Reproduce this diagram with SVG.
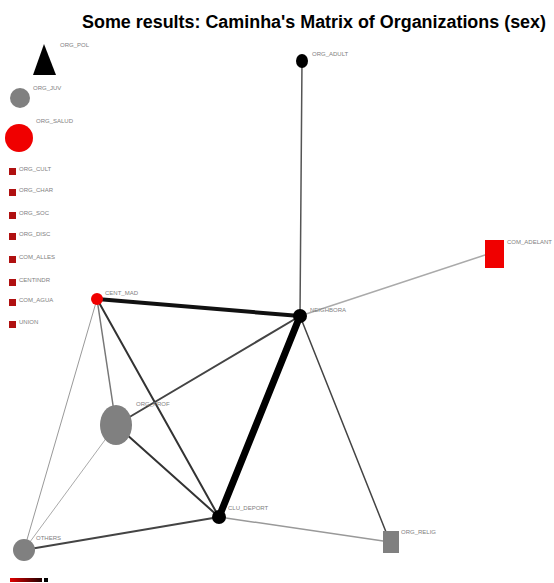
<svg xmlns="http://www.w3.org/2000/svg" width="554" height="583" viewBox="0 0 554 583">
<defs>
<linearGradient id="lg" x1="0" x2="1" y1="0" y2="0"><stop offset="0" stop-color="#e00000"/><stop offset="1" stop-color="#200000"/></linearGradient>
<style>
.lbl{font-family:"Liberation Sans",Arial,sans-serif;font-size:6px;fill:#808080}
.title{font-family:"Liberation Sans",Arial,sans-serif;font-size:18px;font-weight:bold;fill:#000}
.sq{fill:#b01010}
.e{fill:none;stroke-linecap:round}
</style>
</defs>
<rect width="554" height="583" fill="#fff"/>
<text class="title" x="82" y="28" textLength="464" lengthAdjust="spacingAndGlyphs">Some results: Caminha's Matrix of Organizations (sex)</text>
<g id="connectors">
<line class="e" x1="302" y1="60" x2="300" y2="316" stroke="#555" stroke-width="1.5"/>
<line class="e" x1="300" y1="316" x2="488" y2="254" stroke="#aaa" stroke-width="1.5"/>
<line class="e" x1="97" y1="299" x2="300" y2="316" stroke="#111" stroke-width="4"/>
<line class="e" x1="300" y1="316" x2="219" y2="517" stroke="#000" stroke-width="7"/>
<line class="e" x1="300" y1="316" x2="116" y2="425" stroke="#444" stroke-width="2"/>
<line class="e" x1="300" y1="316" x2="390" y2="542" stroke="#444" stroke-width="1.5"/>
<line class="e" x1="97" y1="299" x2="219" y2="517" stroke="#333" stroke-width="2"/>
<line class="e" x1="97" y1="299" x2="116" y2="425" stroke="#777" stroke-width="1.5"/>
<line class="e" x1="97" y1="299" x2="24" y2="550" stroke="#999" stroke-width="1"/>
<line class="e" x1="116" y1="425" x2="219" y2="517" stroke="#333" stroke-width="2"/>
<line class="e" x1="116" y1="425" x2="24" y2="550" stroke="#aaa" stroke-width="1"/>
<line class="e" x1="24" y1="550" x2="219" y2="517" stroke="#444" stroke-width="2"/>
<line class="e" x1="219" y1="517" x2="390" y2="542" stroke="#999" stroke-width="1.5"/>
</g>
<g id="ORG_POL"><polygon points="44,44 33,75 56,75" fill="#000"/><text class="lbl" x="60" y="47">ORG_POL</text></g>
<g id="ORG_JUV"><circle cx="20" cy="98" r="10" fill="#808080"/><text class="lbl" x="33" y="90">ORG_JUV</text></g>
<g id="ORG_SALUD"><circle cx="19" cy="138" r="14" fill="#f00000"/><text class="lbl" x="36" y="123">ORG_SALUD</text></g>
<g id="ORG_CULT"><rect class="sq" x="9" y="168" width="7" height="7"/><text class="lbl" x="19" y="171">ORG_CULT</text></g>
<g id="ORG_CHAR"><rect class="sq" x="9" y="189" width="7" height="7"/><text class="lbl" x="19" y="192">ORG_CHAR</text></g>
<g id="ORG_SOC"><rect class="sq" x="9" y="212" width="7" height="7"/><text class="lbl" x="19" y="215">ORG_SOC</text></g>
<g id="ORG_DISC"><rect class="sq" x="9" y="233" width="7" height="7"/><text class="lbl" x="19" y="236">ORG_DISC</text></g>
<g id="COM_ALLES"><rect class="sq" x="9" y="256" width="7" height="7"/><text class="lbl" x="19" y="259">COM_ALLES</text></g>
<g id="CENTINDR"><rect class="sq" x="9" y="279" width="7" height="7"/><text class="lbl" x="19" y="282">CENTINDR</text></g>
<g id="COM_AGUA"><rect class="sq" x="9" y="299" width="7" height="7"/><text class="lbl" x="19" y="302">COM_AGUA</text></g>
<g id="UNION"><rect class="sq" x="9" y="321" width="7" height="7"/><text class="lbl" x="19" y="324">UNION</text></g>
<g id="ORG_ADULT"><ellipse cx="302" cy="61" rx="6" ry="7" fill="#000"/><text class="lbl" x="312" y="56">ORG_ADULT</text></g>
<g id="COM_ADELANT"><rect x="485" y="240" width="19" height="28" fill="#f00000"/><text class="lbl" x="507" y="244">COM_ADELANT</text></g>
<g id="CENT_MAD"><circle cx="97" cy="299" r="6" fill="#f00000"/><text class="lbl" x="105" y="295">CENT_MAD</text></g>
<g id="NEIGHBORA"><circle cx="300" cy="316" r="7" fill="#000"/><text class="lbl" x="310" y="312">NEIGHBORA</text></g>
<g id="ORG_PROF"><ellipse cx="116" cy="425" rx="16" ry="20" fill="#808080"/><text class="lbl" x="136" y="406">ORG_PROF</text></g>
<g id="CLU_DEPORT"><circle cx="219" cy="517" r="7" fill="#000"/><text class="lbl" x="228" y="510">CLU_DEPORT</text></g>
<g id="ORG_RELIG"><rect x="383" y="531" width="16" height="22" fill="#808080"/><text class="lbl" x="401" y="534">ORG_RELIG</text></g>
<g id="OTHERS"><circle cx="24" cy="550" r="11" fill="#808080"/><text class="lbl" x="36" y="540">OTHERS</text></g>
<g id="legend"><rect x="10" y="578" width="32" height="4" fill="url(#lg)"/><rect x="44" y="578" width="4" height="4" fill="#000"/></g>
</svg>
